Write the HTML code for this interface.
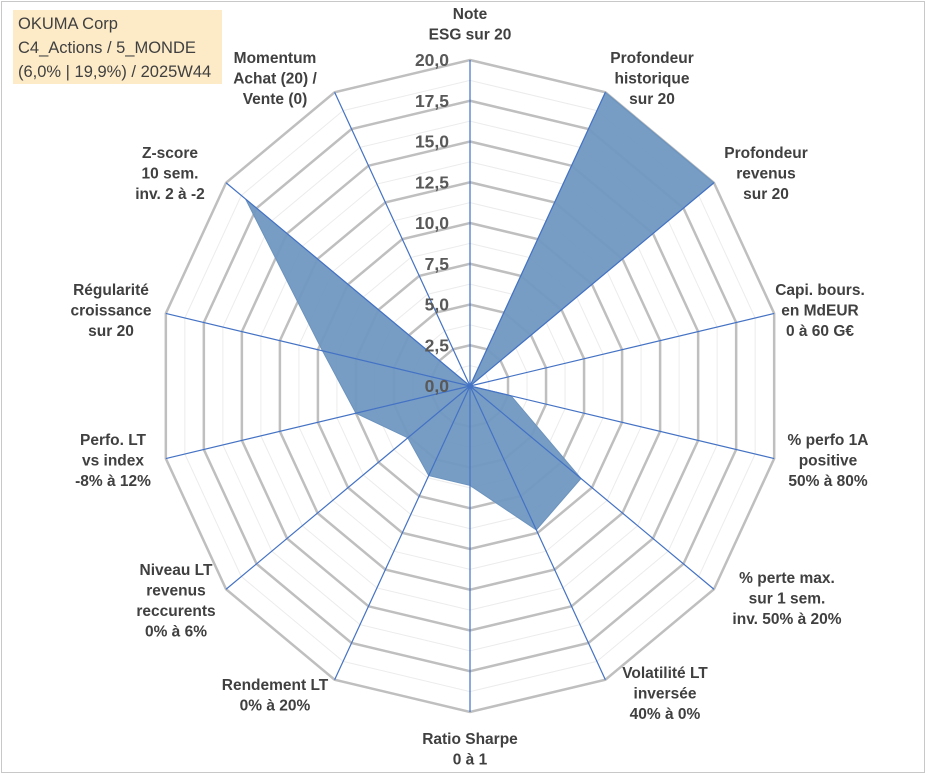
<!DOCTYPE html>
<html><head><meta charset="utf-8">
<style>
html,body{margin:0;padding:0;background:#fff;}
body{width:933px;height:776px;overflow:hidden;position:relative;font-family:"Liberation Sans",sans-serif;}
#frame{position:absolute;left:1px;top:1px;width:922px;height:770px;border:1px solid #c8c8c8;box-sizing:content-box;}
#title{position:absolute;left:13px;top:10px;width:209px;height:74px;background:#fdebc8;color:#404040;font-size:16.5px;line-height:24px;padding:2px 0 0 5px;box-sizing:border-box;white-space:nowrap;}
svg{position:absolute;left:0;top:0;}
</style></head>
<body>
<div id="frame"></div>
<svg id="chart" width="933" height="776"></svg>
<div id="title">OKUMA Corp<br>C4_Actions / 5_MONDE<br>(6,0% | 19,9%) / 2025W44</div>
<script>
const categories=[["Note","ESG sur 20"],["Profondeur","historique","sur 20"],["Profondeur","revenus","sur 20"],["Capi. bours.","en MdEUR","0 à 60 G€"],["% perfo 1A","positive","50% à 80%"],["% perte max.","sur 1 sem.","inv. 50% à 20%"],["Volatilité LT","inversée","40% à 0%"],["Ratio Sharpe","0 à 1"],["Rendement LT","0% à 20%"],["Niveau LT","revenus","reccurents","0% à 6%"],["Perfo. LT","vs index","-8% à 12%"],["Régularité","croissance","sur 20"],["Z-score","10 sem.","inv. 2 à -2"],["Momentum","Achat (20) /","Vente (0)"]];
const seriesValues=[0,20,20,0,2.7,9.1,9.8,6.1,6.1,5.1,7.5,9.7,18.4,0];
const tickLabels=["0,0","2,5","5,0","7,5","10,0","12,5","15,0","17,5","20,0"];
const tickValues=[0,2.5,5,7.5,10,12.5,15,17.5,20];
const labelPos=[[470,19],[652,63],[766,158],[820,295],[828,445],[787,583],[665,678],[470,744],[275,690],[176,575],[113,445],[111,295],[170,158],[275,63]];
</script>
<script>
const NS="http://www.w3.org/2000/svg";
const svg=document.getElementById('chart');
const cx=470,cy=386,rx=312,ry=326,vmax=20,N=categories.length;
function ang(i){return 2*Math.PI*i/N;}
function px(i,v){return cx+Math.sin(ang(i))*rx*v/vmax;}
function py(i,v){return cy-Math.cos(ang(i))*ry*v/vmax;}
function mk(t,a){const e=document.createElementNS(NS,t);for(const k in a)e.setAttribute(k,a[k]);svg.appendChild(e);return e;}
for(let v=1.25;v<=vmax;v+=2.5){
 const pts=categories.map((c,i)=>px(i,v)+','+py(i,v)).join(' ');
 const g=mk('polygon',{points:pts,fill:'none',stroke:'#ececec','stroke-width':1});
 
 
}
tickValues.forEach(v=>{
 if(v===0)return;
 const pts=categories.map((c,i)=>px(i,v)+','+py(i,v)).join(' ');
 const g=mk('polygon',{points:pts,fill:'none',stroke:'#bfbfbf','stroke-width':2.5});
 
 
});
const sp=seriesValues.map((v,i)=>px(i,v)+','+py(i,v)).join(' ');
const poly=mk('polygon',{points:sp,fill:'#7098c2','fill-opacity':0.95,stroke:'#6b93bd','stroke-width':1});


categories.forEach((c,i)=>{
 const l=mk('line',{x1:cx,y1:cy,x2:px(i,vmax),y2:py(i,vmax),stroke:'#4472c4','stroke-width':1.2});
 
 
});
tickValues.forEach((v,k)=>{
 const t=mk('text',{x:cx-21,y:cy-ry*v/vmax+6,'text-anchor':'end','font-size':17.5,'font-weight':'bold',fill:'#595959','font-family':'Liberation Sans, sans-serif'});
 t.textContent=tickLabels[k];
 
 
});
categories.forEach((lines,i)=>{
 const t=mk('text',{'text-anchor':'middle','font-size':15.5,'font-weight':'bold',fill:'#404040','font-family':'Liberation Sans, sans-serif'});
 
 
 lines.forEach((s,j)=>{
  const ts=document.createElementNS(NS,'tspan');
  ts.setAttribute('x',labelPos[i][0]);ts.setAttribute('y',labelPos[i][1]+j*20.5);
  ts.textContent=s;t.appendChild(ts);
 });
});
</script>
</body></html>
